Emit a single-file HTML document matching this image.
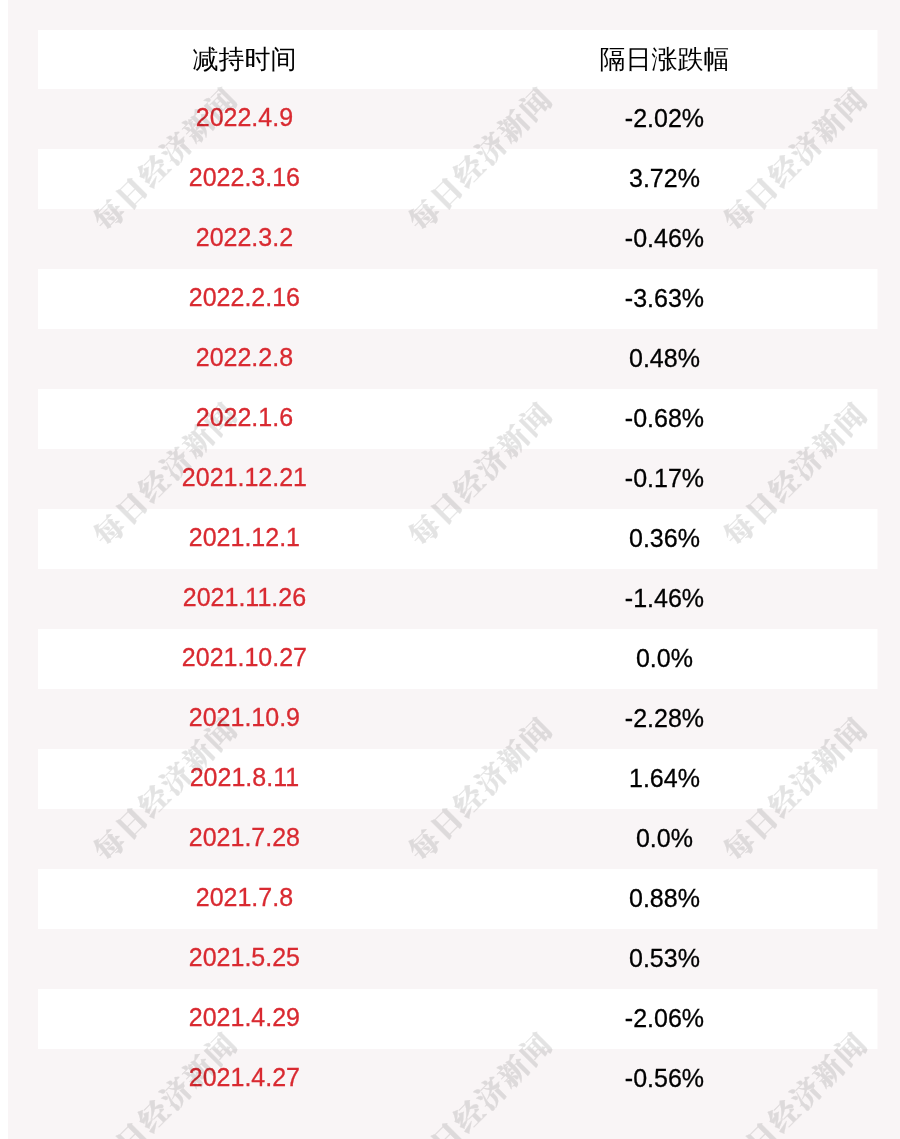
<!DOCTYPE html>
<html><head><meta charset="utf-8"><style>
html,body{margin:0;padding:0;background:#fff;}
body{width:900px;height:1139px;overflow:hidden;position:relative;}
.bg{position:absolute;left:8px;top:0;width:892px;height:1139px;background:#f9f5f6;}
.tbl{position:absolute;left:38px;top:30px;width:839px;}
.h,.r{display:flex;height:60px;align-items:center;}
.h .c1{left:-3.25px;}.h .c2{left:-2.7px;}
.h{height:59px;background:#fff;font-family:"Liberation Sans","WenQuanYi Zen Hei",sans-serif;font-size:26px;color:#000;}
.r{-webkit-text-stroke:0.3px currentColor;background:#fff;font-family:"Liberation Sans",Arial,sans-serif;font-size:25px;}
.r.p{background:#f9f5f6;}
.h,.r{box-shadow:1px 0 0 #fcfafa;}
.r.p{box-shadow:none;}
.c1,.c2{flex:1;text-align:center;position:relative;left:-3px;}
.r .c1{left:-3.35px;color:#d92a31;top:-2px;}
.r .c2{left:-2.8px;color:#000;top:-1px;}
.wmwrap{position:absolute;left:0;top:0;width:900px;height:1139px;pointer-events:none;}
.wm{position:absolute;white-space:nowrap;line-height:1;transform:translate(-50%,-50%) rotate(-45deg);font-family:"Liberation Serif","Noto Serif CJK SC",serif;font-weight:900;font-size:29.5px;letter-spacing:2px;text-indent:2px;color:#000;-webkit-text-stroke:0.3px #000;opacity:0.105;}
</style></head><body>
<div class="bg"></div>
<div class="tbl">
<div class="h"><span class="c1">减持时间</span><span class="c2">隔日涨跌幅</span></div>
<div class="r p"><span class="c1">2022.4.9</span><span class="c2">-2.02%</span></div>
<div class="r"><span class="c1">2022.3.16</span><span class="c2">3.72%</span></div>
<div class="r p"><span class="c1">2022.3.2</span><span class="c2">-0.46%</span></div>
<div class="r"><span class="c1">2022.2.16</span><span class="c2">-3.63%</span></div>
<div class="r p"><span class="c1">2022.2.8</span><span class="c2">0.48%</span></div>
<div class="r"><span class="c1">2022.1.6</span><span class="c2">-0.68%</span></div>
<div class="r p"><span class="c1">2021.12.21</span><span class="c2">-0.17%</span></div>
<div class="r"><span class="c1">2021.12.1</span><span class="c2">0.36%</span></div>
<div class="r p"><span class="c1">2021.11.26</span><span class="c2">-1.46%</span></div>
<div class="r"><span class="c1">2021.10.27</span><span class="c2">0.0%</span></div>
<div class="r p"><span class="c1">2021.10.9</span><span class="c2">-2.28%</span></div>
<div class="r"><span class="c1">2021.8.11</span><span class="c2">1.64%</span></div>
<div class="r p"><span class="c1">2021.7.28</span><span class="c2">0.0%</span></div>
<div class="r"><span class="c1">2021.7.8</span><span class="c2">0.88%</span></div>
<div class="r p"><span class="c1">2021.5.25</span><span class="c2">0.53%</span></div>
<div class="r"><span class="c1">2021.4.29</span><span class="c2">-2.06%</span></div>
<div class="r p"><span class="c1">2021.4.27</span><span class="c2">-0.56%</span></div>
</div>
<div class="wmwrap">
<div class="wm" style="left:166px;top:161px">每日经济新闻</div>
<div class="wm" style="left:481px;top:161px">每日经济新闻</div>
<div class="wm" style="left:796px;top:161px">每日经济新闻</div>
<div class="wm" style="left:166px;top:476px">每日经济新闻</div>
<div class="wm" style="left:481px;top:476px">每日经济新闻</div>
<div class="wm" style="left:796px;top:476px">每日经济新闻</div>
<div class="wm" style="left:166px;top:791px">每日经济新闻</div>
<div class="wm" style="left:481px;top:791px">每日经济新闻</div>
<div class="wm" style="left:796px;top:791px">每日经济新闻</div>
<div class="wm" style="left:166px;top:1106px">每日经济新闻</div>
<div class="wm" style="left:481px;top:1106px">每日经济新闻</div>
<div class="wm" style="left:796px;top:1106px">每日经济新闻</div>
</div>
</body></html>
